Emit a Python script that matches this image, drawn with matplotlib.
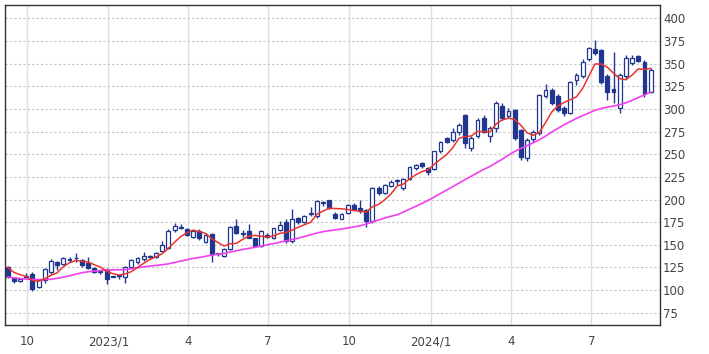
import matplotlib
matplotlib.use("Agg")
import matplotlib.pyplot as plt
import matplotlib.dates as mdates
import pandas as pd

# weekly candles, dated by the Friday of each week
weeks = pd.date_range("2022-09-09", periods=105, freq="7D")

opens = [126, 113, 110, 115.5, 118, 103, 111, 120, 131, 129,
         134, 135.5, 133, 130, 124, 121, 122, 115.5, 117, 115,
         126, 131, 134, 137.5, 136, 143, 146, 166, 170, 167,
         159, 165, 153, 162, 140.5, 138, 145, 171, 163, 165,
         157, 149, 161, 158, 166, 175, 154, 180, 175, 184,
         182, 197, 199, 184, 179, 185, 194, 191, 188, 176,
         213, 207, 215, 221, 213, 223, 235, 240, 235, 234,
         253, 268, 266, 274, 293, 257, 270, 290, 270, 279,
         303, 292, 299, 277, 246, 267, 273, 314, 321, 314,
         301, 296, 332, 336, 355, 366, 365, 336, 322, 301,
         336, 351, 358, 352, 319]
highs = [127, 114, 113, 119, 120, 112, 124, 134, 132, 136,
         137, 141, 134, 137, 125, 122, 124, 116, 117, 127,
         134, 136, 142, 139, 142, 154, 167, 174, 173, 169,
         166, 167, 163, 163, 141, 146, 171, 178, 166, 173,
         158, 166, 163, 169, 176, 178, 190, 181, 183, 192,
         199, 198, 200, 186, 185, 195, 196, 199, 190, 214,
         215, 217, 221, 223, 224, 237, 239, 241, 236, 254,
         265, 269, 279, 284, 294, 270, 290, 293, 281, 309,
         307, 301, 300, 278, 268, 277, 316, 328, 323, 316,
         303, 331, 340, 355, 368, 376, 366, 338, 363, 340,
         360, 359, 359, 354, 345]
lows = [113, 108, 109, 113, 99, 102, 108, 118, 122, 128,
        131, 131, 126, 123, 119, 118, 107, 114, 112, 108,
        124, 129, 132, 135, 135, 142, 145, 164, 167, 160,
        158, 155, 152, 131, 138, 136, 144, 162, 159, 157,
        148, 148, 158, 156, 165, 152, 152, 173, 174, 182,
        180, 193, 190, 178, 178, 184, 189, 185, 170, 174,
        205, 206, 214, 216, 211, 222, 233, 235, 227, 233,
        251, 262, 264, 271, 257, 253, 268, 273, 264, 275,
        288, 290, 266, 244, 242, 263, 271, 312, 304, 297,
        292, 294, 326, 334, 353, 360, 328, 310, 306, 295,
        333, 349, 352, 313, 318]
closes = [115, 110, 112, 115, 101, 111, 123, 132, 128, 135,
          133, 135, 128, 124, 120, 120, 112, 115, 116, 126,
          133, 135, 138, 137, 141, 150, 165, 171, 169, 161,
          165, 157, 161, 140, 140, 145, 170, 163, 162, 158,
          149, 165, 159, 168, 172, 154, 178, 175, 182, 185,
          198, 196, 191, 180, 184, 194, 190, 187, 176, 213,
          207, 216, 219, 220, 223, 236, 238, 237, 230, 253,
          264, 264, 275, 282, 262, 268, 288, 275, 279, 307,
          290, 298, 268, 247, 266, 275, 315, 321, 306, 299,
          295, 330, 337, 352, 367, 362, 330, 319, 319, 337,
          356, 356, 353, 316, 343]

# moving averages (red short, magenta long)
ma_short = [125, 119.6, 117, 115, 110.6, 109.8, 112.4, 116.4, 119, 125.8,
            130.2, 132.6, 131.8, 131, 128, 125.4, 120.8, 118.2, 116.6, 117.8,
            120.4, 125, 129.6, 133.8, 136.8, 140.2, 146.2, 152.8, 159.2, 163.2,
            166.2, 164.6, 162.6, 156.8, 152.6, 148.6, 151.2, 151.6, 156, 159.6,
            160.4, 159.4, 158.6, 159.8, 162.6, 163.6, 166.2, 169.4, 172.2, 174.8,
            183.6, 187.2, 190.4, 190, 189.8, 189, 187.8, 187, 186.2, 192,
            194.6, 199.8, 206.2, 215, 217, 222.8, 227.2, 230.8, 232.8, 238.8,
            244.4, 249.6, 257.2, 267.6, 269.4, 270.2, 275, 275, 274.4, 283.4,
            287.8, 289.8, 288.4, 282, 273.8, 270.8, 274.2, 284.8, 296.6, 303.2,
            307.2, 310.2, 313.4, 322.6, 336.2, 349.6, 349.6, 346, 339.4, 333.4,
            332.2, 337.4, 344.2, 343.6, 344.8]
ma_long = [114.5, 113.5, 112.8, 112.2, 111.8, 111.6, 111.7, 112, 113, 114.3,
           115.7, 117.5, 119.2, 120.2, 121, 121.6, 122.2, 122.4, 122.4, 122.6,
           123.5, 124.6, 125.6, 126.5, 127.3, 128, 129, 130.5, 132, 133.5,
           135, 136, 137.3, 138.5, 139.5, 140.5, 142, 143.5, 144.8, 146,
           147.2, 148.6, 150, 151.3, 152.8, 154.3, 155.8, 157.3, 159.2, 161,
           163, 164.5, 165.5, 166.5, 167.5, 168.5, 169.8, 171, 173, 175.2,
           177.4, 179.6, 181.5, 183.2, 186.2, 189.3, 192.4, 195.6, 199, 202.8,
           206.6, 210.4, 214.2, 218.2, 222, 225.8, 229.6, 233.2, 236.5, 240.5,
           244.5, 249, 253, 256.5, 259.5, 262.5, 266, 270, 274.5, 278.5,
           282.5, 286, 289.5, 292.5, 295.5, 298.5, 300.5, 302, 303.2, 304.6,
           306.8, 309.5, 312.5, 315.5, 318.5]

tick_dates = ["2022-10-01", "2023-01-01", "2023-04-01", "2023-07-01",
              "2023-10-01", "2024-01-01", "2024-04-01", "2024-07-01"]
tick_labels = ["10", "2023/1", "4", "7", "10", "2024/1", "4", "7"]
y_ticks = list(range(75, 401, 25))

NAVY = "#21378f"
TEXT = "#444444"

fig = plt.figure(figsize=(7.09, 3.54), dpi=100)
ax = fig.add_axes([0.0071, 0.081, 0.9243, 0.9056])

x = mdates.date2num(weeks)
for xi, o, h, l, c in zip(x, opens, highs, lows, closes):
    ax.vlines(xi, l, h, color=NAVY, lw=1, zorder=2)
    up = c >= o
    height = max(abs(c - o), 0.5)
    ax.bar(xi, height, bottom=min(o, c), width=4.4,
           color="white" if up else NAVY, edgecolor=NAVY, linewidth=0.9, zorder=3)

ax.plot(x, ma_long, color="#f040f0", lw=1.2, zorder=4)
ax.plot(x, ma_short, color="#e8332b", lw=1.1, zorder=4)

ax.set_xlim(mdates.date2num(pd.Timestamp("2022-09-06")),
            mdates.date2num(pd.Timestamp("2024-09-17")))
ax.set_ylim(61.1, 415)

ax.set_xticks(mdates.date2num(pd.to_datetime(tick_dates)))
ax.set_xticklabels(tick_labels)
ax.set_yticks(y_ticks)
ax.yaxis.tick_right()
ax.tick_params(axis="y", length=0, pad=2, labelsize=8.5, labelcolor=TEXT)
ax.tick_params(axis="x", length=0, pad=7, labelsize=8.5, labelcolor=TEXT)

ax.grid(axis="y", color="#c4c4c4", linestyle=(0, (2, 2)), lw=0.8, zorder=0)
ax.grid(axis="x", color="#e0e0e0", linestyle="-", lw=1, zorder=0)
ax.set_axisbelow(True)
for s in ax.spines.values():
    s.set_color("#333333")
    s.set_linewidth(1)

fig.savefig("out.png", dpi=100)
